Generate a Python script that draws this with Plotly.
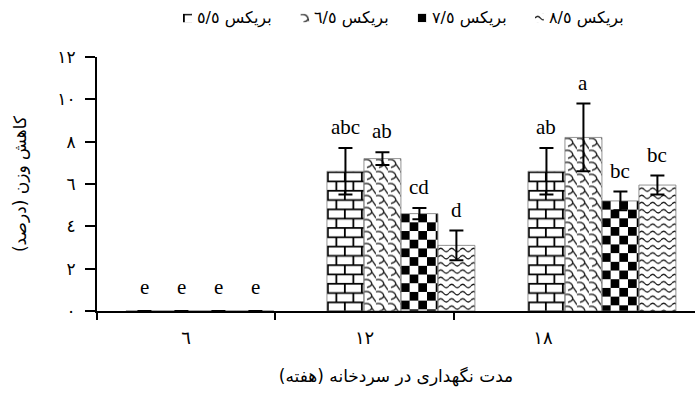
import base64
import plotly.graph_objects as go

# ---- data ----
weeks = ["٦", "١٢", "١٨"]
series_names = ["بریکس ٥/٥", "بریکس ٦/٥", "بریکس ٧/٥", "بریکس ٨/٥"]
weight_loss = [
    [0, 6.6, 6.6],
    [0, 7.2, 8.2],
    [0, 4.6, 5.2],
    [0, 3.1, 5.95],
]
std_err = [
    [0, 1.1, 1.1],
    [0, 0.3, 1.6],
    [0, 0.27, 0.44],
    [0, 0.7, 0.45],
]
letters = [
    ["e", "abc", "ab"],
    ["e", "ab", "a"],
    ["e", "cd", "bc"],
    ["e", "d", "bc"],
]
y_tick_values = [0, 2, 4, 6, 8, 10, 12]
y_tick_labels = ["٠", "٢", "٤", "٦", "٨", "١٠", "١٢"]
x_title = "مدت نگهداری در سردخانه (هفته)"
y_title = "کاهش وزن (درصد)"

# ---- layout constants ----
FIG_W, FIG_H = 695, 397
M_L, M_R, M_T, M_B = 97, 0, 57, 86
PLOT_W = FIG_W - M_L - M_R
PLOT_H = FIG_H - M_T - M_B
Y_MAX = 12
X_RANGE = [-0.512, 2.463]
BAR_W = 0.184
PX_PER_X = PLOT_W / (X_RANGE[1] - X_RANGE[0])
PX_PER_Y = PLOT_H / Y_MAX

# fill textures (tile width, tile height, svg content)
PATTERNS = {
    "brick": (17, 18.6,
              '<path d="M0,0.9H17M0,10.2H17M0.9,0V9.3M9.4,9.3V18.6" '
              'stroke="#000" stroke-width="1.8" fill="none"/>'),
    "shingle": (12, 12,
                '<path d="M0,1.2 Q6.5,0 8,5.5 L12,11.5 M8,5.5 Q6.5,8.5 3,8.8" '
                'stroke="#111" stroke-width="1.25" fill="none"/>'),
    "checker": (17.4, 17.4,
                '<rect width="8.7" height="8.7" fill="#000"/>'
                '<rect x="8.7" y="8.7" width="8.7" height="8.7" fill="#000"/>'),
    "wave": (11, 7.2,
             '<path d="M0,4.6 Q2.75,1.2 5.5,4.6 T11,4.6" stroke="#111" '
             'stroke-width="1.2" fill="none"/>'),
}
series_fill = ["brick", "shingle", "checker", "wave"]


def texture_uri(kind, w, h):
    tw, th, inner = PATTERNS[kind]
    svg = (
        f'<svg xmlns="http://www.w3.org/2000/svg" width="{w:.2f}" height="{h:.2f}" '
        f'viewBox="0 0 {w:.2f} {h:.2f}" preserveAspectRatio="none">'
        f'<defs><pattern id="p" width="{tw}" height="{th}" patternUnits="userSpaceOnUse">'
        f'{inner}</pattern></defs>'
        f'<rect width="100%" height="100%" fill="#fff"/>'
        f'<rect width="100%" height="100%" fill="url(#p)"/></svg>'
    )
    return "data:image/svg+xml;base64," + base64.b64encode(svg.encode()).decode()


def bar_x(series_idx):
    n = len(series_names)
    return [g + (series_idx - (n - 1) / 2) * BAR_W for g in range(len(weeks))]


fig = go.Figure()
images = []
annotations = []

for i, name in enumerate(series_names):
    xs = bar_x(i)
    fig.add_trace(go.Bar(
        x=xs, y=weight_loss[i], width=BAR_W, name=name,
        marker=dict(color="rgba(0,0,0,0)", line=dict(color="#777", width=0.8)),
        error_y=dict(type="data", array=std_err[i], visible=True,
                     color="#000", thickness=2, width=7),
        showlegend=False,
    ))
    for x, v, e, lab in zip(xs, weight_loss[i], std_err[i], letters[i]):
        h_px = v * PX_PER_Y
        if h_px >= 1:
            images.append(dict(
                source=texture_uri(series_fill[i], BAR_W * PX_PER_X, h_px),
                xref="x", yref="y", x=x - BAR_W / 2, y=v,
                sizex=BAR_W, sizey=v, sizing="stretch",
                xanchor="left", yanchor="top", layer="below",
            ))
        annotations.append(dict(
            x=x, y=v + e, xref="x", yref="y", text=lab, showarrow=False,
            yanchor="bottom", yshift=7 if v > 0 else 10,
            font=dict(family="Liberation Serif, Times New Roman, serif", size=21, color="#000"),
        ))

# legend row across the top
LEG_X0, LEG_STEP, LEG_Y, ICON = 183, 117.3, 18, 9
for i, name in enumerate(series_names):
    px = LEG_X0 + i * LEG_STEP
    images.append(dict(
        source=texture_uri(series_fill[i], ICON, ICON),
        xref="paper", yref="paper",
        x=(px - M_L) / PLOT_W, y=(FIG_H - M_B - LEG_Y + ICON / 2) / PLOT_H,
        sizex=ICON / PLOT_W, sizey=ICON / PLOT_H, sizing="stretch",
        xanchor="left", yanchor="top", layer="above",
    ))
    annotations.append(dict(
        x=(px + ICON + 3 - M_L) / PLOT_W, y=(FIG_H - M_B - LEG_Y) / PLOT_H,
        xref="paper", yref="paper", text=name, showarrow=False,
        xanchor="left", yanchor="middle",
        font=dict(family="DejaVu Sans", size=16, color="#000"),
    ))

# category axis carrying the storage-week labels
fig.add_trace(go.Scatter(x=[0, 1, 2], y=[None, None, None], xaxis="x2",
                         mode="markers", showlegend=False, hoverinfo="skip"))

fig.update_layout(
    width=FIG_W, height=FIG_H,
    margin=dict(l=M_L, r=M_R, t=M_T, b=M_B),
    paper_bgcolor="#fff", plot_bgcolor="rgba(0,0,0,0)",
    barmode="overlay",
    images=images, annotations=annotations,
    font=dict(family="DejaVu Sans", color="#000"),
    xaxis=dict(
        range=X_RANGE, showline=True, linecolor="#000", linewidth=2,
        ticks="", showticklabels=False, showgrid=False, zeroline=False,
        automargin=False,
        title=dict(text=x_title, standoff=58, font=dict(size=17)),
    ),
    xaxis2=dict(
        domain=[0, 0.895], anchor="y", range=[-0.5, 2.5],
        tickmode="array", tickvals=[0, 1, 2], ticktext=weeks,
        ticks="", showline=False, showgrid=False, zeroline=False,
        tickfont=dict(size=18), ticklabelstandoff=14, automargin=False,
        minor=dict(tickmode="array", tickvals=[-0.5, 0.5, 1.5], ticks="outside",
                   ticklen=8, tickwidth=1.5, tickcolor="#000", showgrid=False),
    ),
    yaxis=dict(
        range=[0, Y_MAX], tickmode="array", tickvals=y_tick_values, ticktext=y_tick_labels,
        ticks="outside", ticklen=10, tickwidth=1.5, tickcolor="#000",
        showline=True, linecolor="#000", linewidth=2, showgrid=False, zeroline=False,
        tickfont=dict(size=17), ticklabelstandoff=6, automargin=False,
        title=dict(text=y_title, standoff=26, font=dict(size=17)),
    ),
)

fig.write_html("out.html")
